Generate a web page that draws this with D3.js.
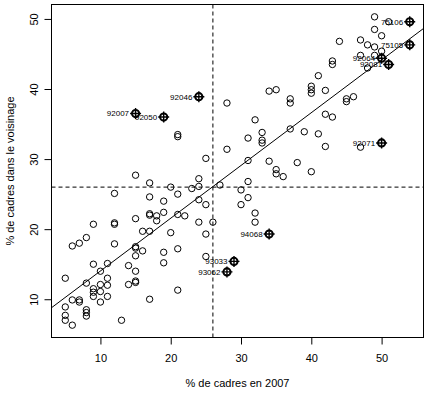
<!DOCTYPE html>
<html>
<head>
<meta charset="utf-8">
<script src="https://cdn.jsdelivr.net/npm/d3@7"></script>
<style>
  html, body { margin: 0; padding: 0; background: #fff; }
  svg { display: block; font-family: "Liberation Sans", Arial, Helvetica, sans-serif; }
</style>
</head>
<body>
<svg id="chart" width="429" height="393"></svg>
<script>
// ---- data ----
const xValues = [
  5,5,5,5, 6,6,6, 7,7,7, 8,8,8,8,8, 9,9,9,9,9, 10,10,10,10, 11,11,11,11,
  12,12,12,12, 13, 14,14, 15,15,15,15,15,15,15,15,15, 16,16, 17,17,17,17,17,17,
  18,18, 19,19,19,19,19, 20,20, 21,21,21,21,21,21, 22, 23, 24,24,24,24,24,
  25,25,25,25, 26, 27, 28,28,28, 29, 30,30, 31,31,31,31, 32,32,32, 33,33,33,
  34,34,34, 35,35,35, 36, 37,37,37, 38, 39, 40,40,40,40, 41,41, 42,42,42,
  43,43,43, 44, 45,45, 46, 47,47,47, 48,48, 49,49,49,49, 50,50,50,50, 51,51, 54,54
];
const yValues = [
  13.0,8.9,7.7,7.0, 17.6,9.9,6.3, 18.0,9.9,9.6, 18.8,12.3,8.5,8.1,7.6, 20.7,15.0,11.5,11.0,10.4,
  14.0,12.1,11.1,9.6, 15.1,13.0,12.0,10.4,
  25.1,20.9,20.7,17.9, 7.0, 14.8,12.1, 36.5,27.7,21.5,17.5,17.3,16.2,14.0,12.6,12.4, 19.7,16.9,
  26.6,24.6,22.2,22.0,19.7,10.0,
  21.9,21.2, 36.0,24.0,22.4,16.7,15.2, 26.0,19.5, 33.5,33.2,25.0,22.1,17.2,11.3, 21.9, 25.8,
  38.9,27.2,26.1,24.2,21.0,
  30.1,23.5,19.3,16.1, 21.0, 26.3, 38.0,31.4,13.9, 15.4, 25.6,23.5, 33.0,29.8,26.8,24.5,
  35.6,22.3,21.0, 33.8,32.7,32.3,
  39.7,29.7,19.3, 39.9,28.5,27.9, 27.5, 38.6,38.0,34.3, 29.5, 33.9, 40.4,39.9,39.4,28.2, 41.9,33.6,
  39.8,36.4,31.8,
  44.0,43.5,36.0, 46.8, 38.6,38.2, 38.9, 47.0,44.8,31.7, 46.3,43.0, 50.3,48.5,46.0,44.8,
  47.6,45.4,44.4,32.3, 49.6,43.5, 49.6,46.3
];
// labelled communes
const labelIds = ["92007","92050","92046","75106","75105","92064","92081","92071","94068","93033","93062"];
const labelX   = [15, 19, 24, 54, 54, 50, 51, 50, 34, 29, 28];
const labelY   = [36.5, 36.0, 38.9, 49.6, 46.3, 44.4, 43.5, 32.3, 19.3, 15.4, 13.9];
// reference lines
const refX = 26, refY = 26;
const regIntercept = 6.5, regSlope = 0.753;
const xTicks = [10, 20, 30, 40, 50];
const yTicks = [10, 20, 30, 40, 50];
const xTitle = "% de cadres en 2007";
const yTitle = "% de cadres dans le voisinage";

(function () {
// ---- layout ----
const svg = d3.select("#chart");
const pL = 51.5, pR = 423.5, pT = 4.5, pB = 337.5;

function padExtent(arr) {
  const [a, b] = d3.extent(arr);
  const p = (b - a) * 0.04;
  return [a - p, b + p];
}
const x = d3.scaleLinear().domain(padExtent(xValues)).range([pL, pR]);
const y = d3.scaleLinear().domain(padExtent(yValues)).range([pB, pT]);

svg.append("defs").append("clipPath").attr("id", "clip")
  .append("rect").attr("x", pL).attr("y", pT)
  .attr("width", pR - pL).attr("height", pB - pT);

const plot = svg.append("g").attr("clip-path", "url(#clip)");

// dashed reference lines
plot.append("line")
  .attr("x1", x(refX)).attr("x2", x(refX))
  .attr("y1", pT).attr("y2", pB)
  .attr("stroke", "#000").attr("stroke-width", 1).attr("stroke-dasharray", "4,3");
plot.append("line")
  .attr("x1", pL).attr("x2", pR)
  .attr("y1", y(refY)).attr("y2", y(refY))
  .attr("stroke", "#000").attr("stroke-width", 1).attr("stroke-dasharray", "4,3");

// regression line
const [dx0, dx1] = x.domain();
plot.append("line")
  .attr("x1", x(dx0)).attr("y1", y(regIntercept + regSlope * dx0))
  .attr("x2", x(dx1)).attr("y2", y(regIntercept + regSlope * dx1))
  .attr("stroke", "#000").attr("stroke-width", 1);

// points
const pts = xValues.map((v, i) => ({ x: v, y: yValues[i] }));
plot.selectAll("circle.pt").data(pts).enter().append("circle")
  .attr("class", "pt")
  .attr("cx", d => x(d.x)).attr("cy", d => y(d.y))
  .attr("r", 3.2)
  .attr("fill", "none").attr("stroke", "#000").attr("stroke-width", 1);

// labelled markers
const labs = labelIds.map((id, i) => ({ id, x: labelX[i], y: labelY[i] }));
const lg = plot.selectAll("g.lab").data(labs).enter().append("g")
  .attr("class", "lab")
  .attr("transform", d => `translate(${x(d.x)},${y(d.y)})`);
lg.append("circle").attr("r", 3.8).attr("fill", "none")
  .attr("stroke", "#000").attr("stroke-width", 1.6);
lg.append("line").attr("x1", -5.5).attr("x2", 5.5).attr("y1", 0).attr("y2", 0)
  .attr("stroke", "#000").attr("stroke-width", 1.4);
lg.append("line").attr("y1", -5.5).attr("y2", 5.5).attr("x1", 0).attr("x2", 0)
  .attr("stroke", "#000").attr("stroke-width", 1.4);
lg.append("text").attr("x", -6.5).attr("y", 0)
  .attr("dy", "0.35em").attr("text-anchor", "end")
  .attr("font-size", 8).attr("fill", "#000")
  .text(d => d.id);

// box
svg.append("rect").attr("x", pL).attr("y", pT)
  .attr("width", pR - pL).attr("height", pB - pT)
  .attr("fill", "none").attr("stroke", "#000").attr("stroke-width", 1);

// axes
const xAxis = svg.append("g").attr("transform", `translate(0,${pB})`)
  .call(d3.axisBottom(x).tickValues(xTicks).tickSize(7).tickPadding(10).tickFormat(d3.format("d")));
xAxis.select(".domain").remove();
xAxis.selectAll("text").attr("font-size", 11).attr("font-family", "Liberation Sans, Arial, sans-serif").attr("fill", "#000");

const yAxis = svg.append("g").attr("transform", `translate(${pL},0)`)
  .call(d3.axisLeft(y).tickValues(yTicks).tickSize(7).tickFormat(d3.format("d")));
yAxis.select(".domain").remove();
yAxis.selectAll("text")
  .attr("font-size", 11).attr("font-family", "Liberation Sans, Arial, sans-serif").attr("fill", "#000")
  .attr("text-anchor", "middle")
  .attr("x", 0).attr("dy", null).attr("dominant-baseline", "central")
  .attr("transform", "translate(-18,0) rotate(-90)");

// titles
svg.append("text").attr("x", (pL + pR) / 2).attr("y", 386.5)
  .attr("text-anchor", "middle").attr("font-size", 11).attr("fill", "#000")
  .text(xTitle);
svg.append("text")
  .attr("transform", `translate(14,${(pT + pB) / 2}) rotate(-90)`)
  .attr("text-anchor", "middle").attr("font-size", 11).attr("fill", "#000")
  .text(yTitle);
})();
</script>
</body>
</html>
